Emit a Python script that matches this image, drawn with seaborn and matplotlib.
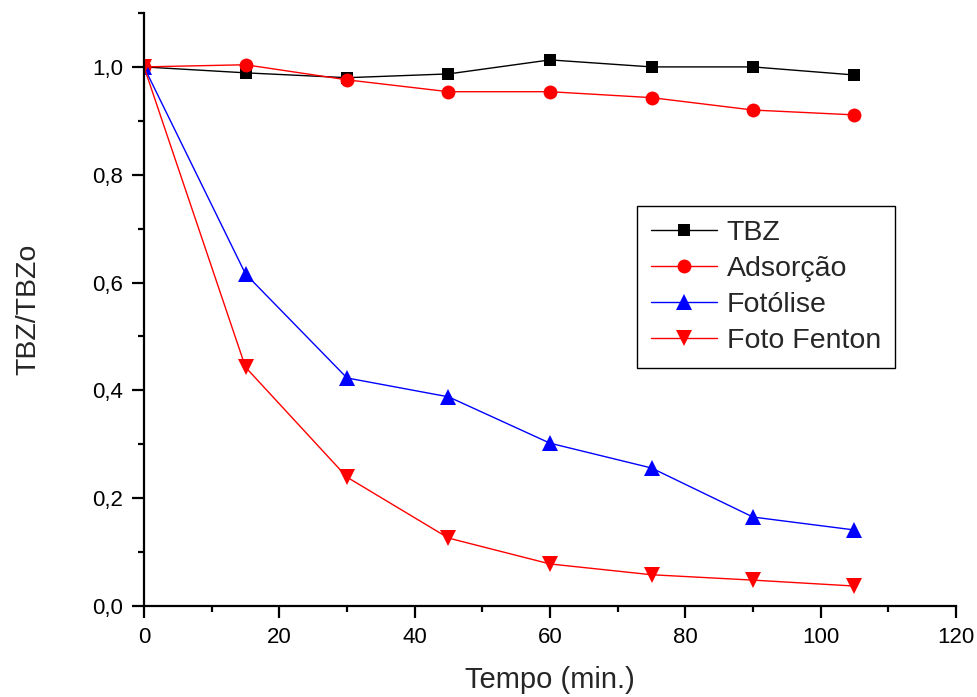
import numpy as np
import pandas as pd
import matplotlib
matplotlib.use("Agg")
import matplotlib.pyplot as plt
import seaborn as sns
from matplotlib.ticker import MultipleLocator, FuncFormatter

tempo = [0, 15, 30, 45, 60, 75, 90, 105]
tbz = [1.000, 0.989, 0.980, 0.987, 1.013, 1.000, 1.000, 0.985]
adsorcao = [1.000, 1.004, 0.976, 0.954, 0.954, 0.943, 0.920, 0.911]
fotolise = [1.000, 0.616, 0.423, 0.388, 0.302, 0.256, 0.165, 0.141]
foto_fenton = [1.000, 0.443, 0.239, 0.126, 0.078, 0.058, 0.048, 0.037]

series_names = ["TBZ", "Adsorção", "Fotólise", "Foto Fenton"]
series_vals = [tbz, adsorcao, fotolise, foto_fenton]

rows = []
for name, vals in zip(series_names, series_vals):
    for t, v in zip(tempo, vals):
        rows.append({"Tempo": t, "valor": v, "serie": name})
df = pd.DataFrame(rows)

sns.set_theme(style="ticks")
plt.rcParams["font.family"] = ["Liberation Sans", "DejaVu Sans"]

fig = plt.figure(figsize=(9.77, 6.97), dpi=100)
ax = fig.add_axes([144 / 977, (697 - 606) / 697, (956 - 144) / 977, (606 - 13) / 697])

palette = {"TBZ": "black", "Adsorção": "red", "Fotólise": "blue", "Foto Fenton": "red"}
markers = {"TBZ": "s", "Adsorção": "o", "Fotólise": "^", "Foto Fenton": "v"}
sizes_ms = {"TBZ": 8.5, "Adsorção": 10, "Fotólise": 11, "Foto Fenton": 11}

for name in series_names:
    sub = df[df["serie"] == name]
    sns.lineplot(data=sub, x="Tempo", y="valor", ax=ax, color=palette[name],
                 marker=markers[name], markersize=sizes_ms[name],
                 markeredgewidth=0, linewidth=1.0, label=name, estimator=None)

ax.set_xlim(0, 120)
ax.set_ylim(0, 1.1)
ax.xaxis.set_major_locator(MultipleLocator(20))
ax.xaxis.set_minor_locator(MultipleLocator(10))
ax.yaxis.set_major_locator(MultipleLocator(0.2))
ax.yaxis.set_minor_locator(MultipleLocator(0.1))
ax.yaxis.set_major_formatter(FuncFormatter(lambda v, p: f"{v:.1f}".replace(".", ",")))
ax.xaxis.set_major_formatter(FuncFormatter(lambda v, p: f"{int(round(v))}"))

for s in ["top", "right"]:
    ax.spines[s].set_visible(False)
for s in ["left", "bottom"]:
    ax.spines[s].set_linewidth(1.6)
    ax.spines[s].set_color("black")

ax.tick_params(which="major", direction="out", length=8.5, width=1.6, labelsize=16,
               colors="black", pad=6.5)
ax.tick_params(which="minor", direction="out", length=4.5, width=1.6, colors="black")

ax.set_xlabel("Tempo (min.)", fontsize=21)
ax.set_ylabel("TBZ/TBZo", fontsize=20.5)
ax.yaxis.set_label_coords(-0.127, 0.5)
ax.xaxis.set_label_coords(0.5, -0.101)

leg = ax.legend(loc="upper left", bbox_to_anchor=(637 / 977, (697 - 206) / 697),
                bbox_transform=fig.transFigure, borderaxespad=0, fontsize=20.5,
                frameon=True, fancybox=False, edgecolor="black", framealpha=1,
                handlelength=2.3, handletextpad=0.35, labelspacing=0.35,
                borderpad=0.5)
leg.get_frame().set_linewidth(1.0)

fig.savefig("out.png", dpi=100)
